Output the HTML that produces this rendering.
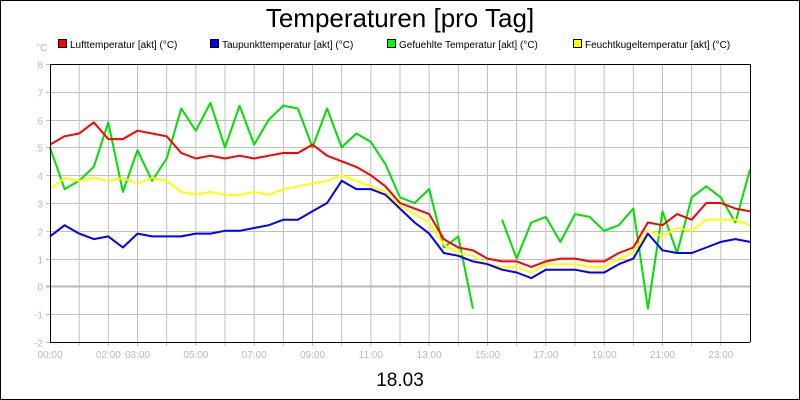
<!DOCTYPE html>
<html><head><meta charset="utf-8"><style>
html,body{margin:0;padding:0;background:#fff;}
svg{display:block;font-family:"Liberation Sans",sans-serif;}
</style></head><body>
<svg id="chart" width="800" height="400" viewBox="0 0 800 400">
<rect x="0.5" y="0.5" width="799" height="399" fill="#fff" stroke="#000"/>
<text x="400" y="27" text-anchor="middle" font-size="26" fill="#000">Temperaturen [pro Tag]</text>
<text x="36" y="51" font-size="10" fill="#bbb">°C</text>
<g>
<g><rect x="58.5" y="39.5" width="8" height="8" fill="#f00" stroke="#000"/><text x="70" y="48" font-size="10">Lufttemperatur [akt] (°C)</text></g>
<g><rect x="210.5" y="39.5" width="8" height="8" fill="#00f" stroke="#000"/><text x="222" y="48" font-size="10">Taupunkttemperatur [akt] (°C)</text></g>
<g><rect x="387.5" y="39.5" width="8" height="8" fill="#0f0" stroke="#000"/><text x="399" y="48" font-size="10">Gefuehlte Temperatur [akt] (°C)</text></g>
<g><rect x="573.5" y="39.5" width="8" height="8" fill="#ff0" stroke="#000"/><text x="585" y="48" font-size="10">Feuchtkugeltemperatur [akt] (°C)</text></g>
</g>
<g id="grid"></g>
<g id="series"></g>
<g id="axes"></g>
<text x="400" y="386" text-anchor="middle" font-size="19" fill="#000">18.03</text>
</svg>
<script>
const hours = [0,0.5,1,1.5,2,2.5,3,3.5,4,4.5,5,5.5,6,6.5,7,7.5,8,8.5,9,9.5,10,10.5,11,11.5,12,12.5,13,13.5,14,14.5,15,15.5,16,16.5,17,17.5,18,18.5,19,19.5,20,20.5,21,21.5,22,22.5,23,23.5,24];
const luft = [5.1,5.4,5.5,5.9,5.3,5.3,5.6,5.5,5.4,4.8,4.6,4.7,4.6,4.7,4.6,4.7,4.8,4.8,5.1,4.7,4.5,4.3,4.0,3.6,3.0,2.8,2.6,1.7,1.4,1.3,1.0,0.9,0.9,0.7,0.9,1.0,1.0,0.9,0.9,1.2,1.4,2.3,2.2,2.6,2.4,3.0,3.0,2.8,2.7];
const taupunkt = [1.8,2.2,1.9,1.7,1.8,1.4,1.9,1.8,1.8,1.8,1.9,1.9,2.0,2.0,2.1,2.2,2.4,2.4,2.7,3.0,3.8,3.5,3.5,3.3,2.8,2.3,1.9,1.2,1.1,0.9,0.8,0.6,0.5,0.3,0.6,0.6,0.6,0.5,0.5,0.8,1.0,1.9,1.3,1.2,1.2,1.4,1.6,1.7,1.6];
const gefuehlt = [5.0,3.5,3.8,4.3,5.9,3.4,4.9,3.8,4.6,6.4,5.6,6.6,5.0,6.5,5.1,6.0,6.5,6.4,5.0,6.4,5.0,5.5,5.2,4.4,3.2,3.0,3.5,1.4,1.8,-0.8,null,2.4,1.0,2.3,2.5,1.6,2.6,2.5,2.0,2.2,2.8,-0.8,2.7,1.2,3.2,3.6,3.2,2.3,4.2];
const feuchtkugel = [3.5,3.9,3.8,3.9,3.8,3.9,3.7,3.9,3.8,3.4,3.3,3.4,3.3,3.3,3.4,3.3,3.5,3.6,3.7,3.8,4.0,3.8,3.6,3.4,2.9,2.6,2.3,1.5,1.2,1.1,0.8,0.7,0.7,0.5,0.8,0.8,0.8,0.7,0.7,1.0,1.2,2.0,1.8,2.1,2.0,2.4,2.4,2.4,2.2];
const yTicks = [-2,-1,0,1,2,3,4,5,6,7,8];
const xTickLabels = ["00:00","02:00","03:00","05:00","07:00","09:00","11:00","13:00","15:00","17:00","19:00","21:00","23:00"];
const xTickHours = [0,2,3,5,7,9,11,13,15,17,19,21,23];

const NS="http://www.w3.org/2000/svg";
const L=50,R=750,T=64,B=342,yMin=-2,yMax=8,xMax=24;
const xs=h=>L+h/xMax*(R-L);
const ys=v=>B-(v-yMin)/(yMax-yMin)*(B-T);
function mk(tag,parent,attrs){const e=document.createElementNS(NS,tag);for(const k in attrs)e.setAttribute(k,attrs[k]);parent.appendChild(e);return e;}
const grid=document.getElementById('grid'),axes=document.getElementById('axes'),ser=document.getElementById('series');
for(let h=1;h<xMax;h++){
  const l=mk('line',grid,{x1:xs(h),x2:xs(h),y1:T,y2:B+4,stroke:'#c0c0c0','stroke-width':1});
  
  
}
yTicks.forEach(v=>{
  const y=Math.round(ys(v))+0.5;
  const l=mk('line',grid,{x1:L-4,x2:R,y1:y,y2:y,stroke:v===0?'#b8b8b8':'#c0c0c0','stroke-width':v===0?2:1});
  
  
  const t=mk('text',axes,{x:L-7,y:y+4,'text-anchor':'end','font-size':10,fill:'#bbb'});
  t.textContent=v;
  
  
});
xTickHours.forEach((h,i)=>{
  const t=mk('text',axes,{x:xs(h),y:B+16,'text-anchor':'middle','font-size':10,fill:'#bbb'});
  t.textContent=xTickLabels[i];
  
  
});
function drawSeries(vals,color,name){
  let d='',pen=false;
  vals.forEach((v,i)=>{
    if(v===null){pen=false;return;}
    d+=(pen?'L':'M')+xs(hours[i]).toFixed(1)+','+ys(v).toFixed(1);
    pen=true;
  });
  const p=mk('path',ser,{d:d,fill:'none',stroke:color,'stroke-width':2,'stroke-linejoin':'round'});
  
  
}
drawSeries(gefuehlt,'#00e000','series-gefuehlte-temperatur');
drawSeries(feuchtkugel,'#ffff00','series-feuchtkugeltemperatur');
drawSeries(luft,'#ff0000','series-lufttemperatur');
drawSeries(taupunkt,'#0000ff','series-taupunkttemperatur');
const frame=mk('path',axes,{d:`M${L+0.5},${T}V${B+0.5}H${R}`,fill:'none',stroke:'#000','stroke-width':1});


const topLine=mk('line',axes,{x1:L,x2:R,y1:T+0.5,y2:T+0.5,stroke:'#000'});


const rightLine=mk('line',axes,{x1:R+0.5,x2:R+0.5,y1:T,y2:B,stroke:'#000'});


</script>
</body></html>
